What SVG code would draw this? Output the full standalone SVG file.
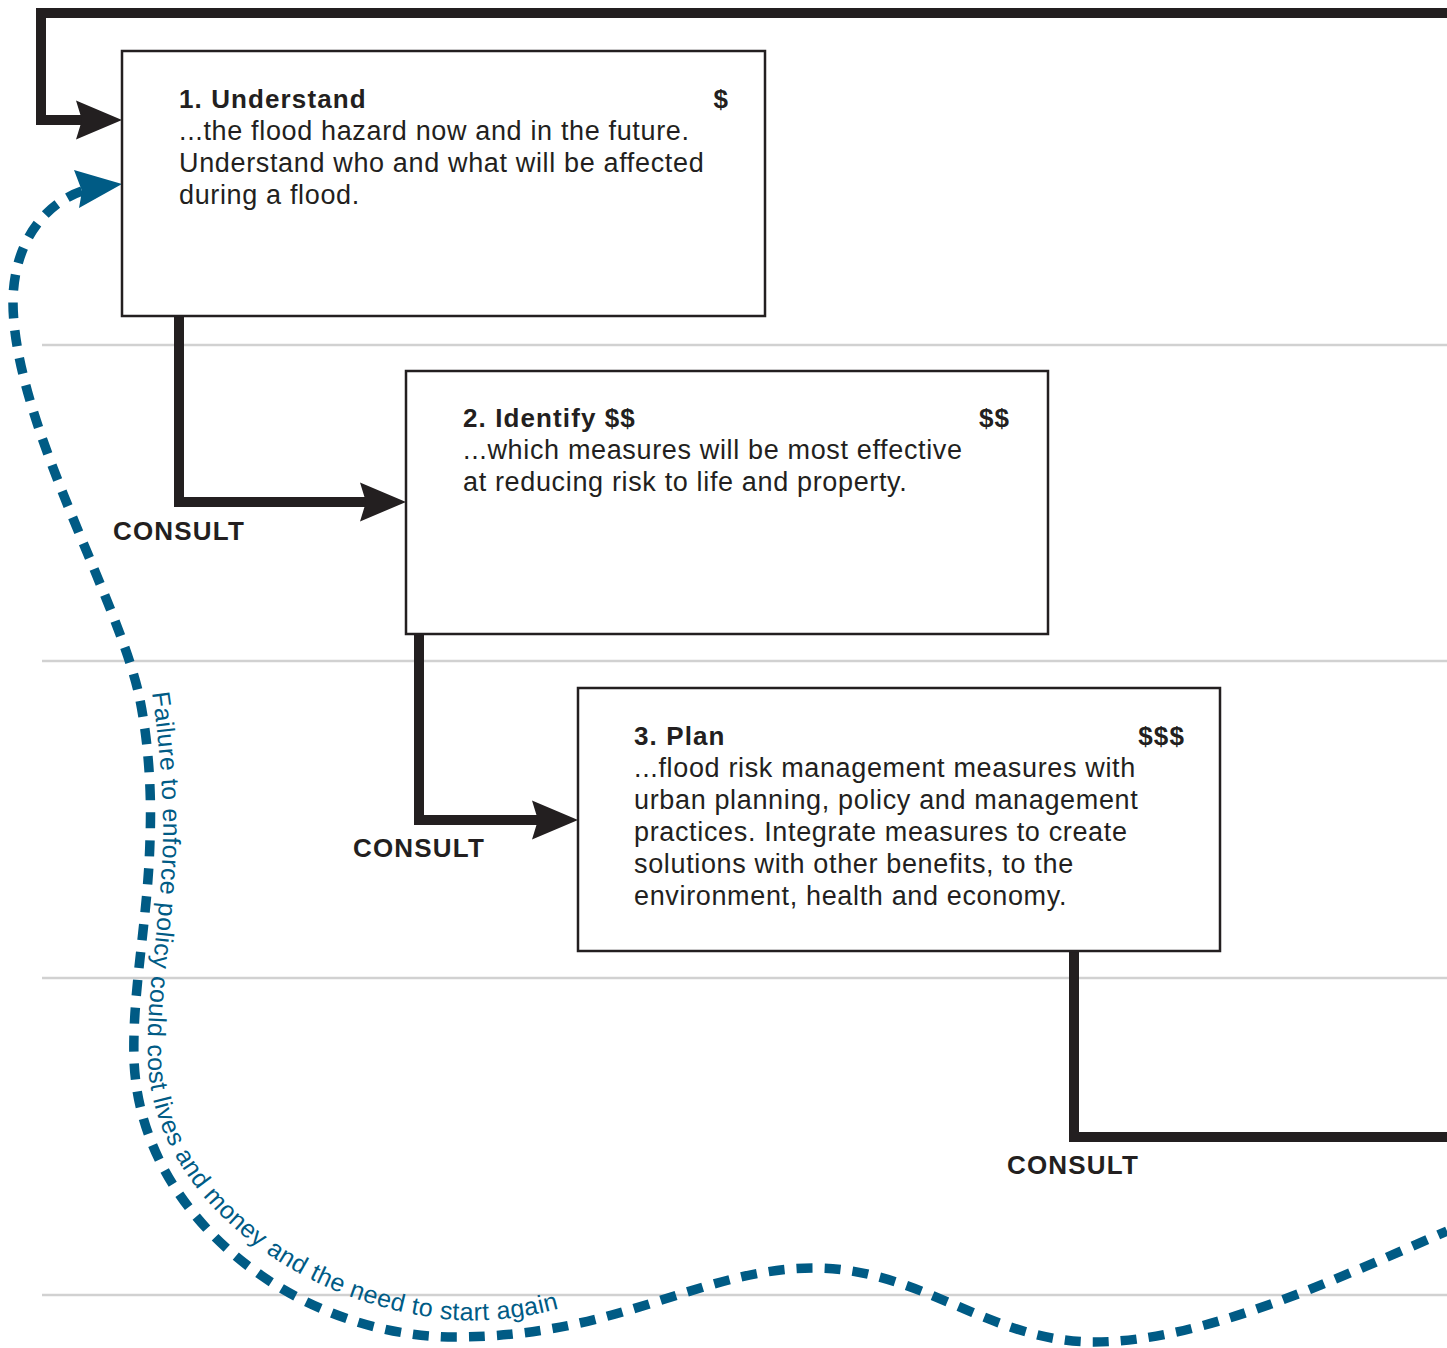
<svg xmlns="http://www.w3.org/2000/svg" width="1447" height="1348" viewBox="0 0 1447 1348">
<style>
.grid{stroke:#d1d1d1;stroke-width:2.5;fill:none}
.box{fill:#fff;stroke:#231f20;stroke-width:2.5}
.conn{fill:none;stroke:#231f20;stroke-width:10;stroke-linejoin:miter;stroke-linecap:butt}
.dash{fill:none;stroke:#005b85;stroke-width:9.5;stroke-dasharray:16 12}
.t{font-family:"Liberation Sans",Arial,Helvetica,sans-serif;fill:#231f20}
.title{font-size:26px;font-weight:bold;letter-spacing:1.1px}
.body{font-size:27px;letter-spacing:0.65px}
.cons{font-size:26px;font-weight:bold;letter-spacing:1.2px;text-anchor:middle}
.cost{text-anchor:end}
.curve{font-family:"Liberation Sans",Arial,Helvetica,sans-serif;font-size:25px;letter-spacing:0.42px;fill:#005b85}
</style>
<defs>
<marker id="ah" markerUnits="userSpaceOnUse" markerWidth="52" markerHeight="42" viewBox="-48 -21 52 42" refX="-40" refY="0" orient="auto">
<path d="M0,0 L-46,-19.5 L-40,0 L-46,19.5 Z" fill="#231f20"/>
</marker>
<path id="tp" d="M 152 693 C 158 735, 164 790, 163 840 C 161 920, 146 990, 148 1060 C 151 1190, 290 1306, 455 1320 C 500 1322, 535 1316, 575 1304"/>
</defs>
<g id="grid">
<line class="grid" x1="42" y1="345" x2="1447" y2="345"/>
<line class="grid" x1="42" y1="661" x2="1447" y2="661"/>
<line class="grid" x1="42" y1="978" x2="1447" y2="978"/>
<line class="grid" x1="42" y1="1295" x2="1447" y2="1295"/>
</g>
<g id="connectors">
<path class="conn" d="M 1447 13 L 41 13 L 41 120 L 82 120" marker-end="url(#ah)"/>
<path class="conn" d="M 179 316 L 179 502 L 366 502" marker-end="url(#ah)"/>
<path class="conn" d="M 419 634 L 419 820 L 538 820" marker-end="url(#ah)"/>
<path class="conn" d="M 1074 951 L 1074 1137 L 1447 1137"/>
<path class="dash" d="M 82 191 C 42 205, 14 245, 13 300 C 12 420, 120 600, 140 700 C 148 740, 152 790, 150 840 C 148 920, 132 990, 134 1060 C 140 1220, 300 1337, 455 1337 C 620 1337, 700 1268, 815 1268 C 920 1268, 990 1342, 1094 1342 C 1200 1342, 1330 1282, 1447 1231"/>
<polygon points="122,184 74,170 82,191 79,208" fill="#005b85"/>
<text class="curve"><textPath href="#tp">Failure to enforce policy could cost lives and money and the need to start again</textPath></text>
<text class="t cons" x="179" y="540">CONSULT</text>
<text class="t cons" x="419" y="857">CONSULT</text>
<text class="t cons" x="1073" y="1174">CONSULT</text>
</g>
<g id="node1">
<rect class="box" x="122" y="51" width="643" height="265"/>
<text class="t title" x="179" y="108">1. Understand</text>
<text class="t title cost" x="729" y="108">$</text>
<text class="t body" x="179" y="140">...the flood hazard now and in the future.</text>
<text class="t body" x="179" y="172">Understand who and what will be affected</text>
<text class="t body" x="179" y="204">during a flood.</text>
</g>
<g id="node2">
<rect class="box" x="406" y="371" width="642" height="263"/>
<text class="t title" x="463" y="427">2. Identify $$</text>
<text class="t title cost" x="1010" y="427">$$</text>
<text class="t body" x="463" y="459">...which measures will be most effective</text>
<text class="t body" x="463" y="491">at reducing risk to life and property.</text>
</g>
<g id="node3">
<rect class="box" x="578" y="688" width="642" height="263"/>
<text class="t title" x="634" y="745">3. Plan</text>
<text class="t title cost" x="1185" y="745">$$$</text>
<text class="t body" x="634" y="777">...flood risk management measures with</text>
<text class="t body" x="634" y="809">urban planning, policy and management</text>
<text class="t body" x="634" y="841">practices. Integrate measures to create</text>
<text class="t body" x="634" y="873">solutions with other benefits, to the</text>
<text class="t body" x="634" y="905">environment, health and economy.</text>
</g>
</svg>
